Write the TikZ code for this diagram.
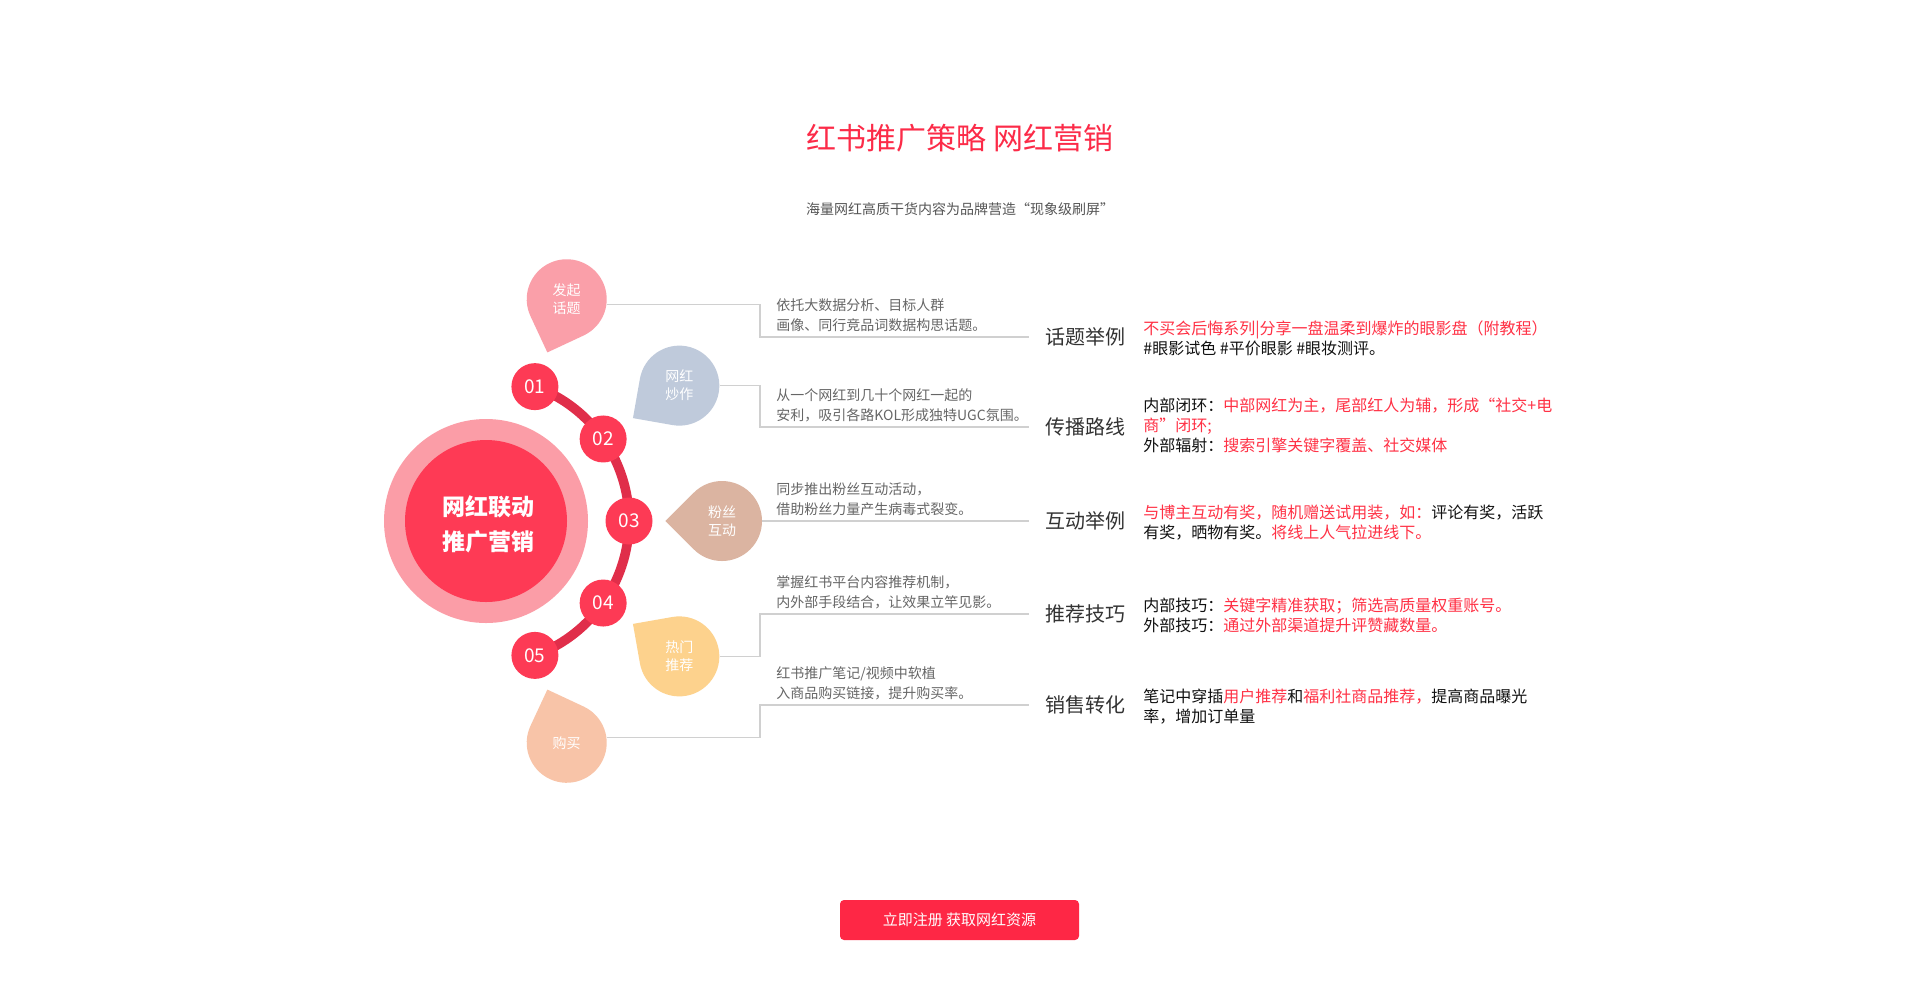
\documentclass[tikz,border=0pt]{standalone}
\usepackage{fontspec}
\setmainfont{Noto Sans CJK SC}
\usetikzlibrary{positioning}
\definecolor{titlered}{HTML}{FC2B48}
\definecolor{subgrey}{HTML}{555555}
\definecolor{ringout}{HTML}{FB9DA7}
\definecolor{ringin}{HTML}{FE3A55}
\definecolor{dotred}{HTML}{FD3A55}
\definecolor{arcred}{HTML}{E02E4A}
\definecolor{pinA}{HTML}{FA9FA9}
\definecolor{pinB}{HTML}{BFCADB}
\definecolor{pinC}{HTML}{DBB4A1}
\definecolor{pinD}{HTML}{FDD28D}
\definecolor{pinE}{HTML}{F8C4A8}
\definecolor{linegrey}{HTML}{D0D0D0}
\definecolor{descgrey}{HTML}{666666}
\definecolor{labelgrey}{HTML}{333333}
\definecolor{infoblack}{HTML}{111111}
\definecolor{hotred}{HTML}{FF3145}
\definecolor{btnred}{HTML}{FE2745}
\newcommand{\hl}[1]{\textcolor{hotred}{#1}}
\tikzset{
  link/.style={draw=linegrey, line width=0.6pt},
  pinlabel/.style={circle, minimum size=40pt, inner sep=0pt, align=center, text=white, font=\fontsize{7pt}{9pt}\selectfont},
  numdot/.style={circle, fill=dotred, minimum size=23.5pt, inner sep=0pt, text=white, font=\fontsize{9.5pt}{9.5pt}\selectfont},
  desc/.style={anchor=south west, align=left, inner xsep=8pt, inner ysep=2.5pt, text=descgrey, font=\fontsize{7pt}{10pt}\selectfont},
  steplabel/.style={anchor=west, inner xsep=8pt, text=labelgrey, font=\fontsize{10pt}{12pt}\selectfont},
  info/.style={anchor=west, align=left, inner sep=0pt, text=infoblack, font=\fontsize{8pt}{10pt}\selectfont},
}
\begin{document}
\begin{tikzpicture}[x=0.5pt, y=-0.5pt]
\fill[white] (0,0) rectangle (1920,997);

\node[font=\fontsize{15pt}{15pt}\selectfont, text=titlered] (title) at (960,138) {红书推广策略 网红营销};
\node[font=\fontsize{7pt}{7pt}\selectfont, text=subgrey] (subtitle) at (960,209) {海量网红高质干货内容为品牌营造“现象级刷屏”};

\begin{scope}[shift={(486,521)}]
\fill[ringout] (0,0) circle[radius=102];
\fill[ringin] (0,0) circle[radius=81];
\node[align=center, text=white, font=\bfseries\fontsize{11.5pt}{17.5pt}\selectfont] (hub) at (2,3) {网红联动\\推广营销};
\draw[arcred, line width=4.75pt] (-70:143) arc[start angle=-70, end angle=70, radius=143];
\node[numdot] (n1) at (-70:143) {01};
\node[numdot] (n2) at (-35:143) {02};
\node[numdot] (n3) at (0:143) {03};
\node[numdot] (n4) at (35:143) {04};
\node[numdot] (n5) at (70:143) {05};

\fill[pinA] (-70:179.4) -- ([shift={(-70:236)}]-205:40) arc[start angle=-205, end angle=65, radius=40] -- cycle;
\fill[pinB] (-35:179.4) -- ([shift={(-35:236)}]-170:40) arc[start angle=-170, end angle=100, radius=40] -- cycle;
\fill[pinC] (0:179.4) -- ([shift={(0:236)}]-135:40) arc[start angle=-135, end angle=135, radius=40] -- cycle;
\fill[pinD] (35:179.4) -- ([shift={(35:236)}]-100:40) arc[start angle=-100, end angle=170, radius=40] -- cycle;
\fill[pinE] (70:179.4) -- ([shift={(70:236)}]-65:40) arc[start angle=-65, end angle=205, radius=40] -- cycle;
\node[pinlabel] (pin1) at (-70:236) {发起\\话题};
\node[pinlabel] (pin2) at (-35:236) {网红\\炒作};
\node[pinlabel] (pin3) at (0:236) {粉丝\\互动};
\node[pinlabel] (pin4) at (35:236) {热门\\推荐};
\node[pinlabel] (pin5) at (70:236) {购买};
\end{scope}

\coordinate (c1) at (760,337);
\coordinate (c2) at (760,427);
\coordinate (c3) at (760,521);
\coordinate (c4) at (760,614);
\coordinate (c5) at (760,705);

\node[steplabel] (lab1) at (1029,337) {话题举例};
\node[steplabel] (lab2) at (1029,427) {传播路线};
\node[steplabel] (lab3) at (1029,521) {互动举例};
\node[steplabel] (lab4) at (1029,614) {推荐技巧};
\node[steplabel] (lab5) at (1029,705) {销售转化};

\draw[link] (pin1.-7) -| (c1) -- (lab1.west);
\draw[link] (pin2.east) -| (c2) -- (lab2.west);
\draw[link] (pin3.east) -- (lab3.west);
\draw[link] (pin4.east) -| (c4) -- (lab4.west);
\draw[link] (pin5.7) -| (c5) -- (lab5.west);

\node[desc] (desc1) at (c1) {依托大数据分析、目标人群\\画像、同行竞品词数据构思话题。};
\node[desc] (desc2) at (c2) {从一个网红到几十个网红一起的\\安利，吸引各路KOL形成独特UGC氛围。};
\node[desc] (desc3) at (c3) {同步推出粉丝互动活动，\\借助粉丝力量产生病毒式裂变。};
\node[desc] (desc4) at (c4) {掌握红书平台内容推荐机制，\\内外部手段结合，让效果立竿见影。};
\node[desc] (desc5) at (c5) {红书推广笔记/视频中软植\\入商品购买链接，提升购买率。};

\node[info] (info1) at (1143,338) {\hl{不买会后悔系列|分享一盘温柔到爆炸的眼影盘（附教程）}\\\#眼影试色 \#平价眼影 \#眼妆测评。};
\node[info] (info2) at (1143,425) {内部闭环：\hl{中部网红为主，尾部红人为辅，形成“社交+电}\\\hl{商”闭环;}\\外部辐射：\hl{搜索引擎关键字覆盖、社交媒体}};
\node[info] (info3) at (1143,523) {\hl{与博主互动有奖，随机赠送试用装，如：}评论有奖，活跃\\有奖，晒物有奖。\hl{将线上人气拉进线下。}};
\node[info] (info4) at (1143,615) {内部技巧：\hl{关键字精准获取；筛选高质量权重账号。}\\外部技巧：\hl{通过外部渠道提升评赞藏数量。}};
\node[info] (info5) at (1143,707) {笔记中穿插\hl{用户推荐}和\hl{福利社商品推荐，}提高商品曝光\\率，增加订单量};

\node[fill=btnred, rounded corners=2pt, minimum width=119.5pt, minimum height=20pt, text=white, font=\fontsize{7.5pt}{7.5pt}\selectfont] (btn) at (959.5,920) {立即注册 获取网红资源};
\end{tikzpicture}
\end{document}
